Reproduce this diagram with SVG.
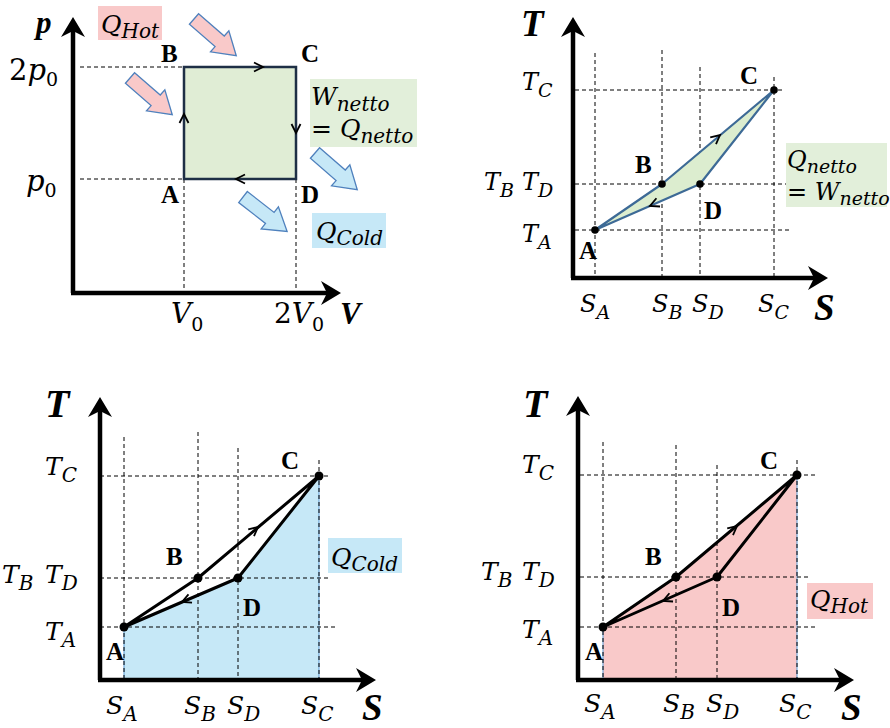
<svg xmlns="http://www.w3.org/2000/svg" xmlns:xlink="http://www.w3.org/1999/xlink" width="890" height="728" viewBox="0 0 890 728">
<style>
.axis{stroke:#000;stroke-width:4.5;fill:none}
.dash{stroke:#000;stroke-width:1;stroke-dasharray:4 3;fill:none}
.m{font-family:"DejaVu Serif","Liberation Serif",serif;font-style:italic;fill:#000}
.up{font-style:normal}
.pt{font-family:"Liberation Serif","Times New Roman",serif;font-weight:bold;font-size:25px;fill:#000}
.big{font-family:"Liberation Serif","Times New Roman",serif;font-weight:bold;font-style:italic;fill:#000}
.cyc{stroke:#000;stroke-width:3;fill:none;stroke-linejoin:round}
.chev{stroke:#000;stroke-width:1.8;fill:none}
.hot{fill:#f9c9c9}
.cold{fill:#c6e8f7}
.net{fill:#e2efda}
.barr{stroke:#4f81bd;stroke-width:1.3}
</style>
<defs>
<path id="ah" d="M1,0 L-19,-12 L-13,0 L-19,12 Z" fill="#000"/>
<path id="ch" d="M-9,-4.5 L0,0 L-9,4.5"/>
<path id="blk" d="M0,-7 L34,-7 L34,-14 L56,0 L34,14 L34,7 L0,7 Z"/>
</defs>

<!-- Panel 1: p-V diagram -->
<g id="pv">
  <g id="pv-axes">
    <path class="axis" d="M73,293 V24 M71,293 H334"/>
    <use href="#ah" transform="translate(73,18) rotate(-90)"/>
    <use href="#ah" transform="translate(340,293)"/>
    <path class="dash" d="M80,67 H184 M80,179 H184 M184,179 V293 M296,179 V293"/>
  </g>
  <g id="pv-cycle">
    <rect x="184" y="67" width="112" height="112" fill="#e0edd5" stroke="#1e2f45" stroke-width="2.5"/>
    <g class="chev" stroke="#1a2a1a">
      <use href="#ch" transform="translate(263,67)"/>
      <use href="#ch" transform="translate(184,114) rotate(-90)"/>
      <use href="#ch" transform="translate(296,133) rotate(90)"/>
      <use href="#ch" transform="translate(236,179) rotate(180)"/>
    </g>
  </g>
  <g id="pv-heat-arrows">
    <use href="#blk" class="hot barr" transform="translate(194,19) rotate(41)"/>
    <use href="#blk" class="hot barr" transform="translate(130,78) rotate(41)"/>
    <use href="#blk" class="cold barr" transform="translate(315,153) rotate(41)"/>
    <use href="#blk" class="cold barr" transform="translate(243,197) rotate(38)"/>
  </g>
  <g id="pv-labels">
    <text class="big" x="36" y="33" font-size="31">p</text>
    <text class="big" x="340" y="324" font-size="31">V</text>
    <text class="m" x="9" y="80" font-size="29"><tspan class="up">2</tspan>p<tspan class="up" font-size="19" dy="6">0</tspan></text>
    <text class="m" x="26" y="191" font-size="29">p<tspan class="up" font-size="19" dy="6">0</tspan></text>
    <text class="m" x="171" y="323" font-size="28">V<tspan class="up" font-size="19" dy="8">0</tspan></text>
    <text class="m" x="274" y="323" font-size="28"><tspan class="up">2</tspan>V<tspan class="up" font-size="19" dy="8">0</tspan></text>
    <text class="pt" x="161" y="62">B</text>
    <text class="pt" x="301" y="62">C</text>
    <text class="pt" x="161" y="203">A</text>
    <text class="pt" x="301" y="203">D</text>
  </g>
  <g id="pv-qhot">
    <rect class="hot" x="98" y="6" width="64" height="34"/>
    <text class="m" x="101" y="33" font-size="25">Q<tspan font-size="20" dy="5">Hot</tspan></text>
  </g>
  <g id="pv-wnet">
    <rect class="net" x="310" y="79" width="107" height="68"/>
    <text class="m" x="311" y="105" font-size="25">W<tspan font-size="20" dy="6">netto</tspan></text>
    <text class="m" x="311" y="137" font-size="25"><tspan class="up">=</tspan> Q<tspan font-size="20" dy="6">netto</tspan></text>
  </g>
  <g id="pv-qcold">
    <rect class="cold" x="312" y="213" width="74" height="35"/>
    <text class="m" x="316" y="240" font-size="25">Q<tspan font-size="20" dy="5">Cold</tspan></text>
  </g>
</g>

<!-- Panel 2: T-S net -->
<g id="ts-net">
  <g id="ts1-axes">
    <path class="dash" d="M575,90 H783 M575,184 H786 M575,230 H790 M595,53 V278 M662,50 V278 M700,67 V278 M774,77 V278"/>
    <path class="axis" d="M573,278 V24 M571,278 H821"/>
    <use href="#ah" transform="translate(573,18) rotate(-90)"/>
    <use href="#ah" transform="translate(827,278)"/>
  </g>
  <g id="ts1-cycle">
    <path d="M595,230 L662,184 L774,90 L700,184 Z" fill="#dcedcf" stroke="#3d6a96" stroke-width="2.2" stroke-linejoin="round"/>
    <g class="chev" stroke="#1a2a1a">
      <use href="#ch" transform="translate(720,135) rotate(-40)"/>
      <use href="#ch" transform="translate(650,206) rotate(156.3)"/>
    </g>
    <circle cx="595" cy="230" r="3.8"/>
    <circle cx="662" cy="184" r="3.8"/>
    <circle cx="700" cy="184" r="3.8"/>
    <circle cx="774" cy="90" r="3.8"/>
  </g>
  <g id="ts1-labels">
    <text class="big" x="521" y="36" font-size="37">T</text>
    <text class="big" x="814" y="320" font-size="37">S</text>
    <text class="m" x="522" y="90" font-size="24">T<tspan font-size="19" dy="7">C</tspan></text>
    <text class="m" x="484" y="190" font-size="24">T<tspan font-size="19" dy="7">B</tspan></text>
    <text class="m" x="522" y="190" font-size="24">T<tspan font-size="19" dy="7">D</tspan></text>
    <text class="m" x="522" y="242" font-size="24">T<tspan font-size="19" dy="7">A</tspan></text>
    <text class="m" x="580" y="312" font-size="24">S<tspan font-size="19" dy="7">A</tspan></text>
    <text class="m" x="652" y="312" font-size="24">S<tspan font-size="19" dy="7">B</tspan></text>
    <text class="m" x="692" y="312" font-size="24">S<tspan font-size="19" dy="7">D</tspan></text>
    <text class="m" x="758" y="312" font-size="24">S<tspan font-size="19" dy="7">C</tspan></text>
    <text class="pt" x="579" y="259">A</text>
    <text class="pt" x="635" y="173">B</text>
    <text class="pt" x="740" y="84">C</text>
    <text class="pt" x="704" y="219">D</text>
  </g>
  <g id="ts1-qnet">
    <rect class="net" x="786" y="143" width="101" height="64"/>
    <text class="m" x="787" y="168" font-size="24">Q<tspan font-size="19" dy="5">netto</tspan></text>
    <text class="m" x="787" y="200" font-size="24"><tspan class="up">=</tspan> W<tspan font-size="19" dy="5">netto</tspan></text>
  </g>
</g>

<!-- Panel 3: T-S Q_Cold -->
<g id="ts-cold">
  <path id="ts2-area" d="M124,627 L238,578 L319,476 L319,680 L124,680 Z" class="cold" stroke="#5b9bd5" stroke-width="1"/>
  <g id="ts2-axes">
    <path class="dash" d="M100,476 H328 M100,578 H330 M100,627 H337 M124,437 V680 M198,432 V680 M238,448 V680 M319,460 V680"/>
    <path class="axis" d="M100,680 V404 M98,680 H369"/>
    <use href="#ah" transform="translate(100,398) rotate(-90)"/>
    <use href="#ah" transform="translate(375,680)"/>
  </g>
  <g id="ts2-cycle">
    <path class="cyc" d="M124,627 L198,578 L319,476 L238,578 Z"/>
    <g class="chev">
      <use href="#ch" transform="translate(258,527) rotate(-40)"/>
      <use href="#ch" transform="translate(182,602) rotate(156.7)"/>
    </g>
    <circle cx="124" cy="627" r="4.5"/>
    <circle cx="198" cy="578" r="4.5"/>
    <circle cx="238" cy="578" r="4.5"/>
    <circle cx="319" cy="476" r="4.5"/>
  </g>
  <g id="ts2-labels">
    <text class="big" x="45" y="417" font-size="40">T</text>
    <text class="big" x="362" y="720" font-size="37">S</text>
    <text class="m" x="45" y="475" font-size="25">T<tspan font-size="20" dy="7">C</tspan></text>
    <text class="m" x="2" y="583" font-size="25">T<tspan font-size="20" dy="7">B</tspan></text>
    <text class="m" x="45" y="583" font-size="25">T<tspan font-size="20" dy="7">D</tspan></text>
    <text class="m" x="45" y="640" font-size="25">T<tspan font-size="20" dy="7">A</tspan></text>
    <text class="m" x="106" y="714" font-size="25">S<tspan font-size="20" dy="7">A</tspan></text>
    <text class="m" x="184" y="714" font-size="25">S<tspan font-size="20" dy="7">B</tspan></text>
    <text class="m" x="227" y="714" font-size="25">S<tspan font-size="20" dy="7">D</tspan></text>
    <text class="m" x="301" y="714" font-size="25">S<tspan font-size="20" dy="7">C</tspan></text>
    <text class="pt" x="106" y="660">A</text>
    <text class="pt" x="166" y="565">B</text>
    <text class="pt" x="281" y="469">C</text>
    <text class="pt" x="243" y="616">D</text>
  </g>
  <g id="ts2-qcold">
    <rect class="cold" x="328" y="538" width="74" height="35"/>
    <text class="m" x="331" y="566" font-size="25">Q<tspan font-size="20" dy="5">Cold</tspan></text>
  </g>
</g>

<!-- Panel 4: T-S Q_Hot -->
<g id="ts-hot">
  <path id="ts3-area" d="M603,627 L676,577 L797,475 L797,680 L603,680 Z" class="hot" stroke="#5b9bd5" stroke-width="1"/>
  <g id="ts3-axes">
    <path class="dash" d="M580,475 H817 M580,577 H808 M580,627 H815 M603,442 V680 M676,445 V680 M717,465 V680 M797,460 V680"/>
    <path class="axis" d="M578,680 V403 M576,680 H847"/>
    <use href="#ah" transform="translate(578,397) rotate(-90)"/>
    <use href="#ah" transform="translate(853,680)"/>
  </g>
  <g id="ts3-cycle">
    <path class="cyc" d="M603,627 L676,577 L797,475 L717,577 Z"/>
    <g class="chev">
      <use href="#ch" transform="translate(737,526) rotate(-40)"/>
      <use href="#ch" transform="translate(663,601) rotate(156.3)"/>
    </g>
    <circle cx="603" cy="627" r="4.5"/>
    <circle cx="676" cy="577" r="4.5"/>
    <circle cx="717" cy="577" r="4.5"/>
    <circle cx="797" cy="475" r="4.5"/>
  </g>
  <g id="ts3-labels">
    <text class="big" x="523" y="417" font-size="40">T</text>
    <text class="big" x="841" y="720" font-size="37">S</text>
    <text class="m" x="522" y="473" font-size="25">T<tspan font-size="20" dy="7">C</tspan></text>
    <text class="m" x="481" y="580" font-size="25">T<tspan font-size="20" dy="7">B</tspan></text>
    <text class="m" x="522" y="580" font-size="25">T<tspan font-size="20" dy="7">D</tspan></text>
    <text class="m" x="522" y="638" font-size="25">T<tspan font-size="20" dy="7">A</tspan></text>
    <text class="m" x="584" y="712" font-size="25">S<tspan font-size="20" dy="7">A</tspan></text>
    <text class="m" x="663" y="712" font-size="25">S<tspan font-size="20" dy="7">B</tspan></text>
    <text class="m" x="706" y="712" font-size="25">S<tspan font-size="20" dy="7">D</tspan></text>
    <text class="m" x="779" y="712" font-size="25">S<tspan font-size="20" dy="7">C</tspan></text>
    <text class="pt" x="585" y="660">A</text>
    <text class="pt" x="645" y="565">B</text>
    <text class="pt" x="760" y="469">C</text>
    <text class="pt" x="722" y="616">D</text>
  </g>
  <g id="ts3-qhot">
    <rect class="hot" x="807" y="583" width="66" height="36"/>
    <text class="m" x="810" y="608" font-size="25">Q<tspan font-size="20" dy="5">Hot</tspan></text>
  </g>
</g>
</svg>
